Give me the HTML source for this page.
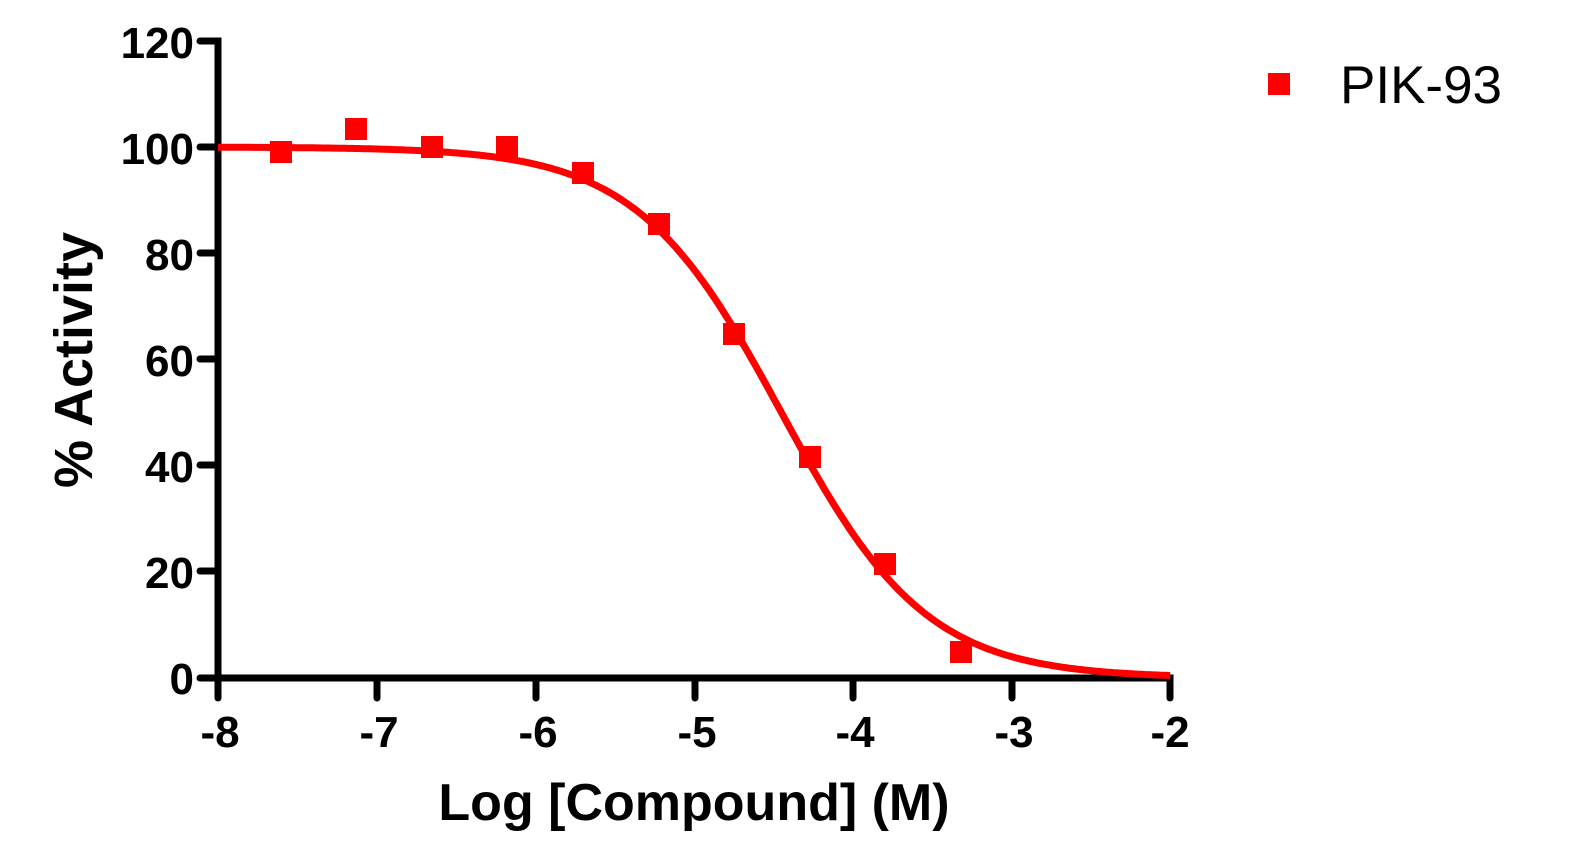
<!DOCTYPE html>
<html><head><meta charset="utf-8"><style>body{margin:0;background:#fff}</style></head>
<body>
<svg width="1572" height="845" xmlns="http://www.w3.org/2000/svg" font-family="Liberation Sans, Arial, sans-serif">
<g stroke="#000" stroke-width="7" stroke-linecap="round" fill="none">
<path d="M200,41 H218 V678 H1170 V698"/>
<path d="M200,147 H218 M200,253 H218 M200,359 H218 M200,465 H218 M200,571 H218 M200,678 H218"/>
<path d="M218,678 V698 M377,678 V698 M536,678 V698 M695,678 V698 M853,678 V698 M1012,678 V698"/>
</g>
<g font-weight="bold" font-size="44" text-anchor="end">
<text x="194" y="58">120</text><text x="194" y="164">100</text><text x="194" y="270">80</text>
<text x="194" y="376">60</text><text x="194" y="482">40</text><text x="194" y="588">20</text><text x="194" y="694">0</text>
</g>
<g font-weight="bold" font-size="44" text-anchor="middle">
<text x="220" y="747">-8</text><text x="379" y="747">-7</text><text x="538" y="747">-6</text>
<text x="697" y="747">-5</text><text x="855" y="747">-4</text><text x="1014" y="747">-3</text><text x="1170" y="747">-2</text>
</g>
<text x="694" y="820" font-weight="bold" font-size="52" text-anchor="middle">Log [Compound] (M)</text>
<text transform="translate(92,360) rotate(-90)" font-weight="bold" font-size="54" text-anchor="middle">% Activity</text>
<path id="c" fill="none" stroke="#f00" stroke-width="7" d=""/>
<g fill="#f00">
<rect x="270" y="141" width="22" height="22"/><rect x="345" y="118" width="22" height="22"/>
<rect x="421" y="136" width="22" height="22"/><rect x="496" y="136" width="22" height="22"/>
<rect x="572" y="162" width="22" height="22"/><rect x="648" y="213" width="22" height="22"/>
<rect x="723" y="323" width="22" height="22"/><rect x="799" y="446" width="22" height="22"/>
<rect x="874" y="553" width="22" height="22"/><rect x="950" y="641" width="22" height="22"/>
<rect x="1268" y="73" width="22" height="22"/>
</g>
<text x="1340" y="103" font-size="53">PIK-93</text>
<script>
var d="";for(var i=0;i<=300;i++){var lx=-8+6*i/300;var y=100/(1+Math.pow(10,(lx+4.45)*0.95));
var px=218+(lx+8)*158.7, py=678-y*5.31;d+=(i?"L":"M")+px.toFixed(1)+","+py.toFixed(1);}
document.getElementById("c").setAttribute("d",d);
</script>
</svg>
</body></html>
